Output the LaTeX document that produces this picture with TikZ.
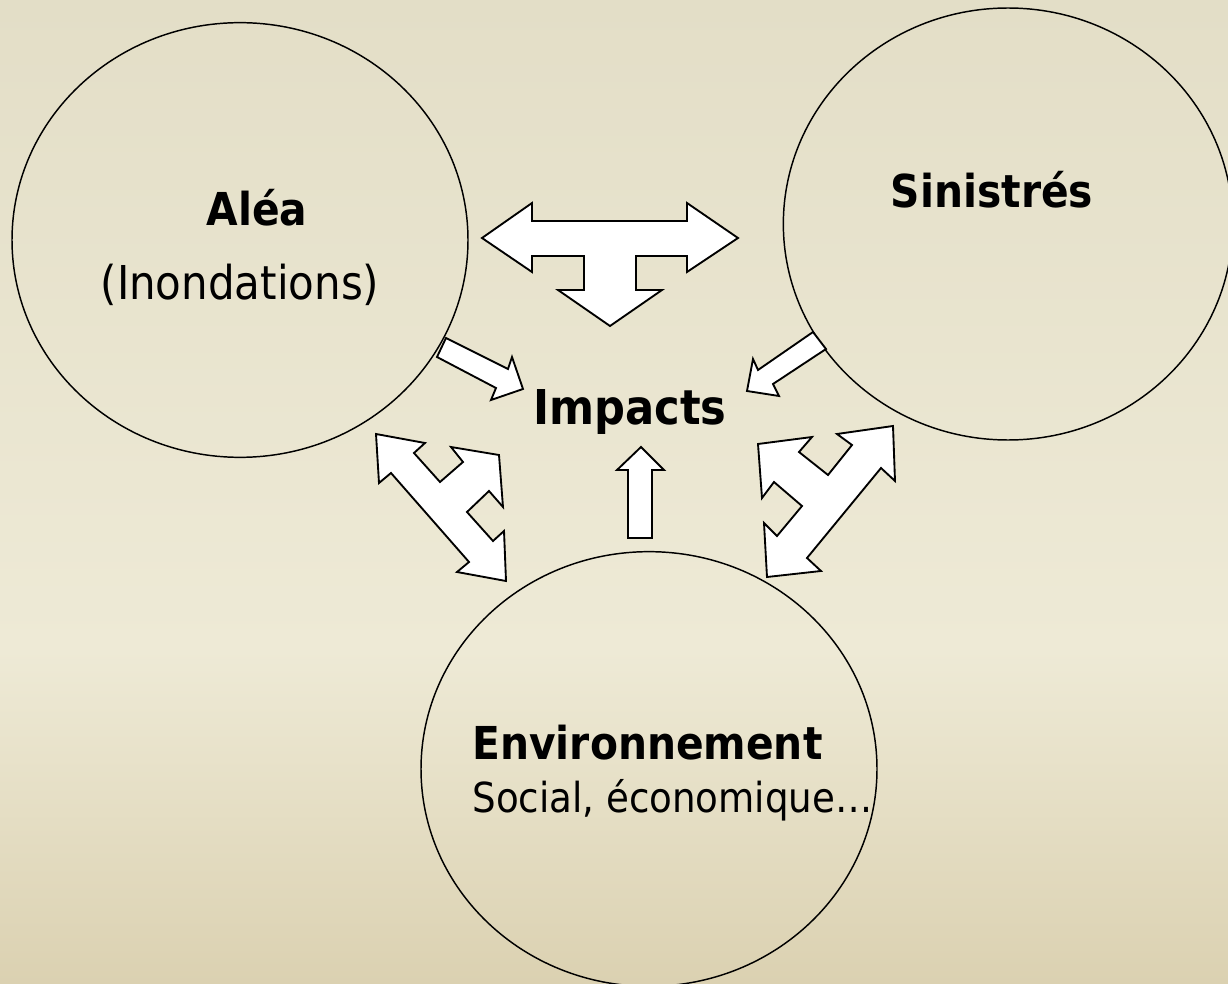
\documentclass[tikz,border=0pt]{standalone}
\usepackage{fontspec}
\setmainfont{DejaVu Sans Condensed}
\usepackage{tikz}
\usetikzlibrary{shapes.geometric,positioning}
\definecolor{bgtop}{HTML}{E3DEC7}
\definecolor{bgmid}{HTML}{EEEAD6}
\definecolor{bgbot}{HTML}{DBD1B1}

\begin{document}
\begin{tikzpicture}[x=0.75pt,y=-0.75pt,semithick]
  \tikzstyle{zone}=[ellipse,draw=black,line width=1.1pt,inner sep=0pt]
  \tikzstyle{bloc}=[draw=black,fill=white,line width=1.4pt,line join=miter]
  \tikzstyle{titre}=[font=\fontsize{34}{40}\selectfont\bfseries,inner sep=0pt]
  \tikzstyle{texte}=[font=\fontsize{31}{37}\selectfont,inner sep=0pt]

  \useasboundingbox (0,0) rectangle (1228,984);
  \clip (0,0) rectangle (1228,984);
  \shade[top color=bgtop,bottom color=bgmid] (0,0) rectangle (1228,650);
  \shade[top color=bgmid,bottom color=bgbot] (0,650) rectangle (1228,984);

  \node[zone,minimum width=342pt,minimum height=326pt] (alea) at (240,240) {};
  \node[zone,minimum width=337pt,minimum height=324pt] (sin) at (1008,224) {};
  \node[zone,minimum width=342pt,minimum height=326pt] (env) at (649,769) {};

  \node[titre] (aleat) at (257,208) {Aléa};
  \node[texte,font=\fontsize{35}{40}\selectfont] (inond) at (240,285) {(Inondations)};
  \node[titre] (sint) at (992,190) {Sinistrés};
  \node[titre,font=\fontsize{36}{42}\selectfont\bfseries] (imp) at (630,412) {Impacts};
  \node[titre,anchor=west] (envt) at (472,743) {Environnement};
  \node[texte,anchor=west] (soc) at (472,800) {Social, économique…};

  % fleches
  \draw[bloc] (482,238) -- (532,203) -- (532,221) -- (687,221) -- (687,203)
    -- (738,238) -- (687,272) -- (687,256) -- (636,256) -- (636,290)
    -- (662,290) -- (610,326) -- (558,290) -- (584,290) -- (584,256)
    -- (532,256) -- (532,272) -- cycle;
  \draw[bloc] (376,434) -- (425,443) -- (414,453) -- (440,482) -- (463,462)
    -- (451,447) -- (499,455) -- (503,507) -- (489,491) -- (467,512)
    -- (493,541) -- (504,531) -- (506,581) -- (457,572) -- (469,562)
    -- (391,473) -- (379,483) -- cycle;
  \draw[bloc] (893,426) -- (895,481) -- (881,468) -- (807,558) -- (821,571)
    -- (767,577) -- (764,523) -- (777,536) -- (802,506) -- (774,482)
    -- (762,498) -- (758,444) -- (812,437) -- (799,452) -- (828,475)
    -- (852,445) -- (837,434) -- cycle;
  \draw[bloc] (446,338) -- (508,369) -- (512,357) -- (523,389) -- (491,400)
    -- (496,388) -- (437,357) -- cycle;
  \draw[bloc] (813,332) -- (826,349) -- (773,384) -- (779,396) -- (747,391)
    -- (753,359) -- (758,370) -- cycle;
  \draw[bloc] (641,447) -- (664,470) -- (652,470) -- (652,538) -- (628,538)
    -- (628,470) -- (617,470) -- cycle;
\end{tikzpicture}
\end{document}
